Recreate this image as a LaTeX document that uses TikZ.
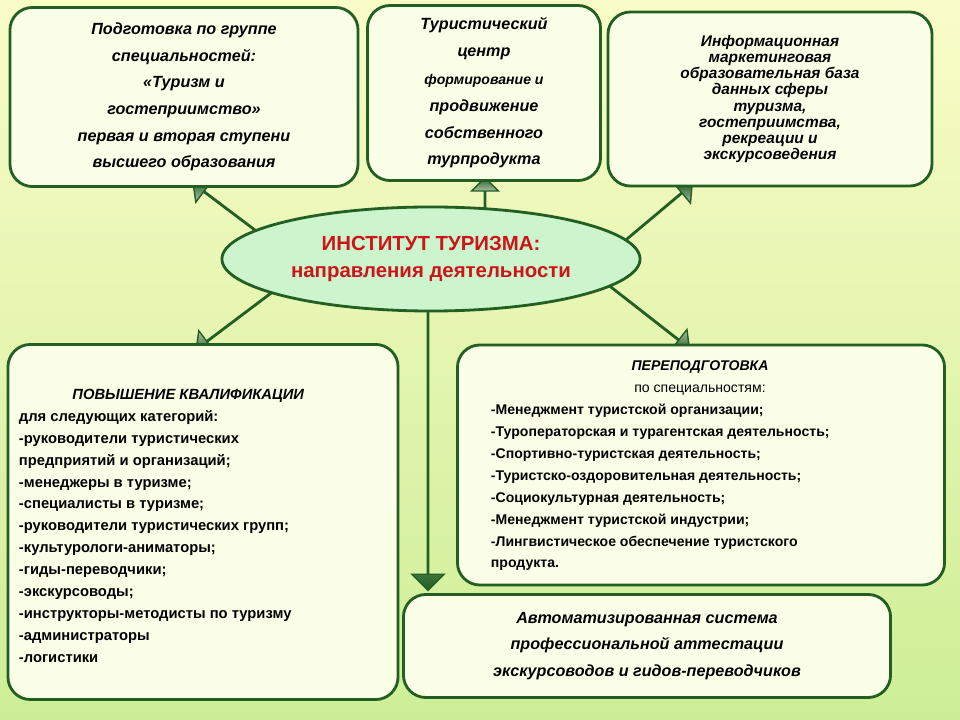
\documentclass[tikz,border=0pt]{standalone}
\usepackage{fontspec}
\setmainfont{Liberation Sans}
\usetikzlibrary{shapes.geometric,shapes.arrows}
\definecolor{dkgreen}{RGB}{35,95,35}
\definecolor{bgtop}{RGB}{250,252,200}
\definecolor{bgbot}{RGB}{205,238,150}
\definecolor{boxfill}{RGB}{252,255,232}
\definecolor{ovalfill}{RGB}{205,245,205}
\definecolor{titlered}{RGB}{205,20,25}
\tikzset{
    infobox/.style={draw=dkgreen,line width=2pt,rounded corners=16pt,fill=boxfill,
        inner sep=0pt,font=\bfseries\itshape},
    blockarrow/.style={single arrow,draw=dkgreen,line width=1pt,inner sep=0pt,
        minimum width=18pt,single arrow head extend=9pt,single arrow tip angle=90,
        top color=dkgreen,bottom color=dkgreen,middle color=white,shading angle=0}
}
\begin{document}
\begin{tikzpicture}[x=0.025cm,y=-0.025cm]
    \useasboundingbox (0,0) rectangle (960,720);
    \shade[top color=bgtop,bottom color=bgbot] (0,0) rectangle (960,720);

    % arrows from the centre
    \node[blockarrow,minimum height=2.6cm,rotate=143] (arrUL) at (235,215) {};
    \node[blockarrow,minimum height=2.6cm,rotate=40] (arrUR) at (652,218) {};
    \node[blockarrow,minimum height=2.6cm,rotate=217] (arrDL) at (238,318) {};
    \node[blockarrow,minimum height=2.6cm,rotate=-38] (arrDR) at (648,316) {};
    \node[blockarrow,minimum height=1.1cm,rotate=90] (arrU) at (485,200) {};
    \node[blockarrow,minimum height=7cm,minimum width=15pt,rotate=-90,
        single arrow head extend=11pt] (arrD) at (428,450) {};

    % boxes
    \node[infobox,minimum width=8.7cm,minimum height=4.475cm,align=center,
        font=\bfseries\itshape\fontsize{11.5}{19}\selectfont] (prep) at (184,97)
        {Подготовка по группе\\ специальностей:\\ «Туризм и\\ гостеприимство»\\
         первая и вторая ступени\\ высшего образования};
    \node[infobox,minimum width=5.825cm,minimum height=4.375cm,align=center,
        font=\bfseries\itshape\fontsize{11.5}{19}\selectfont] (centr) at (484,93)
        {Туристический\\ центр\\[1pt]
         \fontsize{10}{15.5}\selectfont формирование и\\ продвижение\\ собственного\\ турпродукта};
    \node[infobox,minimum width=8.1cm,minimum height=4.35cm,align=center,
        font=\bfseries\itshape\fontsize{11}{11.5}\selectfont] (baza) at (770,99)
        {Информационная\\ маркетинговая\\ образовательная база\\ данных сферы\\
         туризма,\\ гостеприимства,\\ рекреации и\\ экскурсоведения};

    \node[ellipse,draw=dkgreen,line width=2pt,fill=ovalfill,minimum width=10.45cm,
        minimum height=2.6cm,align=center,text=titlered,
        font=\bfseries\fontsize{14.5}{19}\selectfont] (inst) at (431,259)
        {ИНСТИТУТ ТУРИЗМА:\\ направления деятельности};

    \node[infobox,minimum width=9.75cm,minimum height=8.875cm] (kval) at (203,522) {};
    \node[anchor=north west,align=left,font=\bfseries\fontsize{10.5}{15.6}\selectfont]
        (kvaltxt) at (14,384)
        {\hspace*{38pt}\textit{ПОВЫШЕНИЕ КВАЛИФИКАЦИИ}\\
         для следующих категорий:\\ -руководители туристических\\
         предприятий и организаций;\\ -менеджеры в туризме;\\
         -специалисты в туризме;\\ -руководители туристических групп;\\
         -культурологи-аниматоры;\\ -гиды-переводчики;\\ -экскурсоводы;\\
         -инструкторы-методисты по туризму\\ -администраторы\\ -логистики};

    \node[infobox,minimum width=12.175cm,minimum height=6cm] (perep) at (701,465) {};
    \node[align=center,font=\fontsize{10}{15.6}\selectfont] (pereptitle) at (700,378)
        {\textbf{\textit{ПЕРЕПОДГОТОВКА}}\\ по специальностям:};
    \node[anchor=north west,align=left,font=\bfseries\fontsize{10}{15.6}\selectfont]
        (pereptxt) at (486,399)
        {-Менеджмент туристской организации;\\
         -Туроператорская и турагентская деятельность;\\
         -Спортивно-туристская деятельность;\\
         -Туристско-оздоровительная деятельность;\\
         -Социокультурная деятельность;\\
         -Менеджмент туристской индустрии;\\
         -Лингвистическое обеспечение туристского\\ продукта.};

    \node[infobox,minimum width=12.175cm,minimum height=2.575cm,align=center,
        font=\bfseries\itshape\fontsize{11.5}{19}\selectfont] (attest) at (647,646)
        {Автоматизированная система\\ профессиональной аттестации\\
         экскурсоводов и гидов-переводчиков};
\end{tikzpicture}
\end{document}
